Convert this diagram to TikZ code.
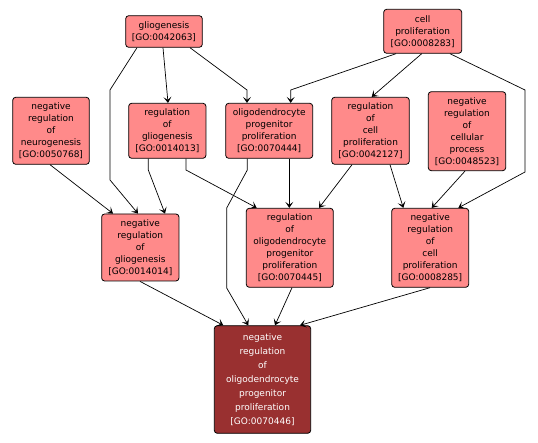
\documentclass[tikz,border=0pt]{standalone}
\usepackage{fontspec}
\setmainfont{DejaVu Sans}
\usetikzlibrary{arrows.meta}
\definecolor{gopink}{HTML}{FF8A8A}
\definecolor{godark}{HTML}{993030}
\begin{document}
\begin{tikzpicture}[x=1pt,y=-1pt,
  gobox/.style={draw=black,line width=0.8pt,rounded corners=3pt,fill=gopink,
    align=center,inner sep=0pt,font=\fontsize{9}{12}\selectfont},
  goterm/.style={gobox,fill=godark,text=white,font=\fontsize{9}{14}\selectfont},
  arr/.style={draw=black,line width=0.7pt,-{Stealth[length=6pt,width=8pt,inset=3pt]}}]
\useasboundingbox[fill=white] (0,0) rectangle (538,443);
% nodes
\node[gobox,minimum width=76.6pt,minimum height=31.6pt] (glio) at (164,31.5) {gliogenesis\\{}[GO:0042063]};
\node[gobox,minimum width=78pt,minimum height=44pt] (cp) at (422.7,31.3) {cell\\proliferation\\{}[GO:0008283]};
\node[gobox,minimum width=76.6pt,minimum height=67pt] (nrn) at (51,130.8) {negative\\regulation\\of\\neurogenesis\\{}[GO:0050768]};
\node[gobox,minimum width=77.3pt,minimum height=55pt] (rg) at (167.3,130.8) {regulation\\of\\gliogenesis\\{}[GO:0014013]};
\node[gobox,minimum width=87pt,minimum height=55pt] (opp) at (269.2,130.8) {oligodendrocyte\\progenitor\\proliferation\\{}[GO:0070444]};
\node[gobox,minimum width=77.6pt,minimum height=67pt] (rcp) at (370.5,130.8) {regulation\\of\\cell\\proliferation\\{}[GO:0042127]};
\node[gobox,minimum width=77.4pt,minimum height=79pt] (nrcpr) at (467,131.2) {negative\\regulation\\of\\cellular\\process\\{}[GO:0048523]};
\node[gobox,minimum width=77.3pt,minimum height=67pt] (nrg) at (140.3,247.5) {negative\\regulation\\of\\gliogenesis\\{}[GO:0014014]};
\node[gobox,minimum width=87pt,minimum height=79pt] (ropp) at (289.8,247.8) {regulation\\of\\oligodendrocyte\\progenitor\\proliferation\\{}[GO:0070445]};
\node[gobox,minimum width=77pt,minimum height=79pt] (nrcp) at (430.2,247.8) {negative\\regulation\\of\\cell\\proliferation\\{}[GO:0008285]};
\node[goterm,minimum width=96.4pt,minimum height=107.6pt] (term) at (262.5,379.5) {negative\\regulation\\of\\oligodendrocyte\\progenitor\\proliferation\\{}[GO:0070446]};
% edges
\draw[arr] (glio.south -| 163,0) -- (rg.north -| 168,0);
\draw[arr] (glio.south -| 190,0) -- (247,90) -- (opp.north -| 247,0);
\draw[arr] (glio.south -| 137,0) -- (110,90) -- (110,180) -- (nrg.north -| 138,0);
\draw[arr] (cp.south -| 396,0) -- (290.7,90) -- (opp.north -| 290.7,0);
\draw[arr] (cp.south -| 421.7,0) -- (rcp.north -| 371.7,0);
\draw[arr] (cp.south -| 450,0) -- (525,90) -- (525,172) -- (nrcp.north -| 458.3,0);
\draw[arr] (nrn.south -| 50,0) -- (nrg.north -| 113,0);
\draw[arr] (rg.south -| 148.3,0) -- (148.3,170) -- (nrg.north -| 165,0);
\draw[arr] (rg.south -| 186,0) -- (186,170) -- (ropp.north -| 256.7,0);
\draw[arr] (opp.south -| 289.3,0) -- (ropp.north -| 289.3,0);
\draw[arr] (opp.south -| 247.3,0) -- (247.3,170) -- (226.7,208) -- (226.7,288) -- (term.north -| 248.3,0);
\draw[arr] (rcp.south -| 352,0) -- (ropp.north -| 319,0);
\draw[arr] (rcp.south -| 390,0) -- (nrcp.north -| 403.3,0);
\draw[arr] (nrcpr.south -| 465,0) -- (nrcp.north -| 431.7,0);
\draw[arr] (nrg.south -| 140,0) -- (term.north -| 223.3,0);
\draw[arr] (ropp.south -| 292,0) -- (term.north -| 275,0);
\draw[arr] (nrcp.south -| 430,0) -- (term.north -| 300,0);
\end{tikzpicture}
\end{document}
